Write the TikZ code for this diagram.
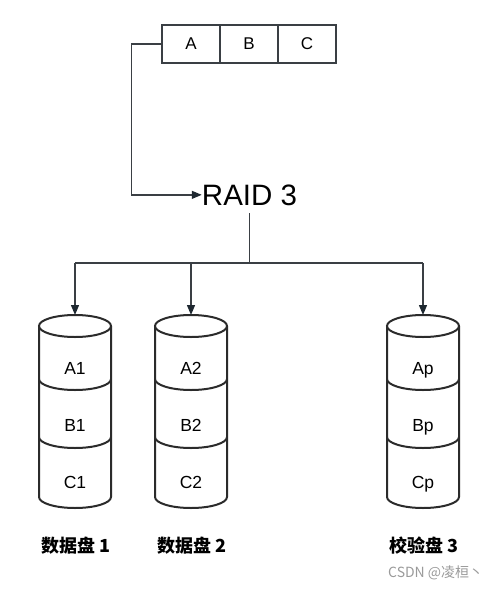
\documentclass[tikz,border=0pt]{standalone}
\usepackage{fontspec}
\setmainfont{Liberation Sans}
\newfontfamily\cjk{Noto Sans CJK SC}
\usetikzlibrary{arrows.meta}
\definecolor{linec}{HTML}{3A3F44}
\definecolor{cylc}{HTML}{2B2B2B}
\definecolor{tipc}{HTML}{1E2830}
\definecolor{wm}{HTML}{9A9A9A}
\tikzset{
  cell/.style={draw=linec, line width=1.3pt, minimum width=58pt, minimum height=38pt, inner sep=0pt, font=\fontsize{17}{17}\selectfont},
  conn/.style={draw=linec, line width=1.3pt},
  arr/.style={conn, -{Triangle[length=10pt,width=8pt,fill=tipc,color=tipc]}},
  cyl/.style={draw=cylc, line width=2pt, fill=white},
  dlabel/.style={inner sep=0pt, anchor=base, font=\fontsize{17.5}{17.5}\selectfont},
  caption/.style={inner sep=0pt, font=\cjk\bfseries\fontsize{18}{18}\selectfont},
}
\newcommand{\disk}[1]{%
  \filldraw[cyl] (#1-36,326) -- (#1-36,497) arc[start angle=180,end angle=0,x radius=36,y radius=11] -- (#1+36,326);
  \filldraw[cyl] (#1,326) ellipse[x radius=36,y radius=11];
  \draw[cyl] (#1-36,379) arc[start angle=180,end angle=0,x radius=36,y radius=11];
  \draw[cyl] (#1-36,437) arc[start angle=180,end angle=0,x radius=36,y radius=11];
}
\begin{document}
\begin{tikzpicture}[x=1pt,y=-1pt]
\useasboundingbox (0,0) rectangle (498,590);
% top cells
\node[cell] (ca) at (191,44) {A};
\node[cell] (cb) at (249,44) {B};
\node[cell] (cc) at (307,44) {C};
% RAID label
\node[inner sep=0pt, anchor=base, font=\fontsize{29.5}{29.5}\selectfont] (raid) at (249.5,205) {RAID 3};
\draw[arr] (ca.west) -- ++(-30,0) |- (raid.west);
% bus
\coordinate (bus) at (249.5,263);
\coordinate (bl) at (75,263);
\coordinate (br) at (423,263);
\coordinate (b2) at (191,263);
\draw[conn] ([yshift=-8pt]raid.south) -- (bus);
\draw[conn] (bl) -- (br);
% disks
\disk{75}
\disk{191}
\disk{423}
\coordinate (d1) at (75,315);
\coordinate (d2) at (191,315);
\coordinate (d3) at (423,315);
\draw[arr] (bl) -- (d1);
\draw[arr] (b2) -- (d2);
\draw[arr] (br) -- (d3);
% disk labels
\node[dlabel] (a1) at (75,374) {A1};
\node[dlabel] (b1) at (75,431) {B1};
\node[dlabel] (c1) at (75,488) {C1};
\node[dlabel] (a2) at (191,374) {A2};
\node[dlabel] (b2l) at (191,431) {B2};
\node[dlabel] (c2) at (191,488) {C2};
\node[dlabel] (ap) at (423,374) {Ap};
\node[dlabel] (bp) at (423,431) {Bp};
\node[dlabel] (cp) at (423,488) {Cp};
% captions
\node[caption] (l1) at (76,546) {数据盘 1};
\node[caption] (l2) at (192,546) {数据盘 2};
\node[caption] (l3) at (424,546) {校验盘 3};
\node[inner sep=0pt, anchor=west, text=wm, font=\cjk\fontsize{14}{14}\selectfont] (wmk) at (388,573) {CSDN @凌桓丶};
\end{tikzpicture}
\end{document}
